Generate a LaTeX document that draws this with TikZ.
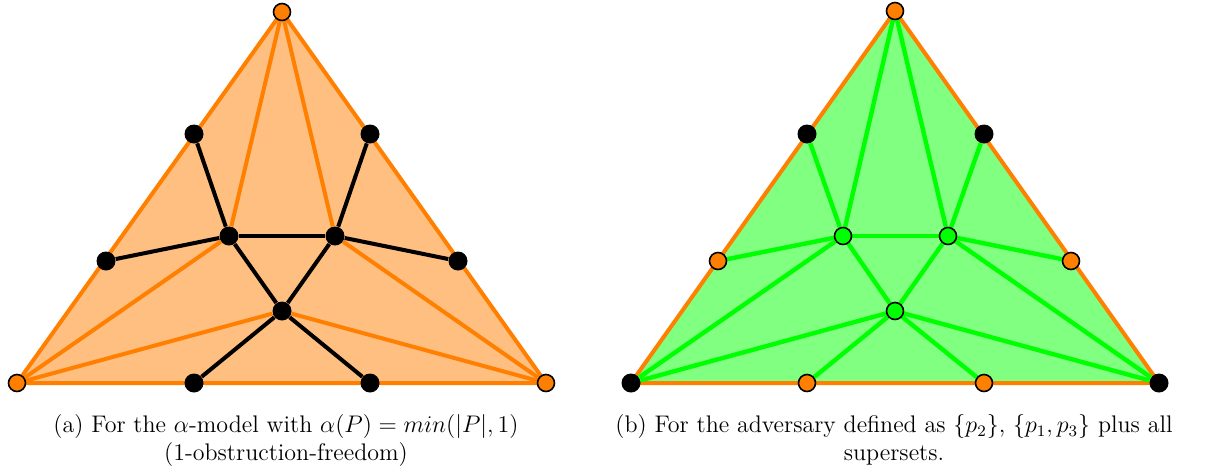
\documentclass[tikz,border=0pt]{standalone}
\usepackage{amsmath,amssymb}
\usepackage{xcolor}
\usepackage{tikz}
\usetikzlibrary{positioning, backgrounds}

\begin{document}
\begin{tikzpicture}[x=0.5pt, y=-0.5pt,
    vorange/.style={circle, draw=black, fill=orange, line width=0.8pt, inner sep=0pt, minimum size=8.5pt},
    vblack/.style={circle, fill=black, inner sep=0pt, minimum size=9.5pt},
    vgreen/.style={circle, draw=black, fill=green, line width=0.8pt, inner sep=0pt, minimum size=8.5pt},
    oline/.style={draw=orange, line width=2pt},
    bline/.style={draw=black, line width=2pt},
    gline/.style={draw=green, line width=2.2pt},
    capt/.style={align=center, font=\large, inner sep=0pt}]

    \useasboundingbox (0,0) rectangle (1211,473);

    % (a) alpha-model
    \node [vorange] (aT) at (282,12) {};
    \node [vorange] (aB) at (17,383) {};
    \node [vorange] (aC) at (546,383) {};
    \node [vblack] (aL1) at (194,134) {};
    \node [vblack] (aL2) at (106,261) {};
    \node [vblack] (aR1) at (370,134) {};
    \node [vblack] (aR2) at (458,261) {};
    \node [vblack] (aD1) at (194,383) {};
    \node [vblack] (aD2) at (370,383) {};
    \node [vblack] (aI1) at (229,236) {};
    \node [vblack] (aI2) at (335,236) {};
    \node [vblack] (aI3) at (282,311) {};

    \begin{pgfonlayer}{background}
        \fill [orange!50] (aT.center) -- (aB.center) -- (aC.center) -- cycle;
        \draw [oline] (aT.center) -- (aB.center) -- (aC.center) -- cycle;
        \draw [oline] (aT) -- (aI1);
        \draw [oline] (aT) -- (aI2);
        \draw [oline] (aB) -- (aI1);
        \draw [oline] (aB) -- (aI3);
        \draw [oline] (aC) -- (aI2);
        \draw [oline] (aC) -- (aI3);
        \draw [bline] (aI1) -- (aI2);
        \draw [bline] (aI1) -- (aI3);
        \draw [bline] (aI2) -- (aI3);
        \draw [bline] (aL1) -- (aI1);
        \draw [bline] (aL2) -- (aI1);
        \draw [bline] (aR1) -- (aI2);
        \draw [bline] (aR2) -- (aI2);
        \draw [bline] (aD1) -- (aI3);
        \draw [bline] (aD2) -- (aI3);
    \end{pgfonlayer}

    \node [capt] (capa) at (286,440) {(a) For the $\alpha$-model with $\alpha(P) = min(|P|,1)$\\(1-obstruction-freedom)};

    % (b) adversary
    \node [vorange] (bT) at (895,11) {};
    \node [vblack] (bB) at (631,383) {};
    \node [vblack] (bC) at (1159,383) {};
    \node [vblack] (bL1) at (807,134) {};
    \node [vorange] (bL2) at (718,261) {};
    \node [vblack] (bR1) at (984,134) {};
    \node [vorange] (bR2) at (1071,261) {};
    \node [vorange] (bD1) at (807,383) {};
    \node [vorange] (bD2) at (984,383) {};
    \node [vgreen] (bI1) at (843,236) {};
    \node [vgreen] (bI2) at (948,236) {};
    \node [vgreen] (bI3) at (895,311) {};

    \begin{pgfonlayer}{background}
        \fill [green!50] (bT.center) -- (bB.center) -- (bC.center) -- cycle;
        \draw [oline] (bT.center) -- (bB.center) -- (bC.center) -- cycle;
        \draw [gline] (bT) -- (bI1);
        \draw [gline] (bT) -- (bI2);
        \draw [gline] (bI1) -- (bI2);
        \draw [gline] (bI1) -- (bI3);
        \draw [gline] (bI2) -- (bI3);
        \draw [gline] (bL1) -- (bI1);
        \draw [gline] (bL2) -- (bI1);
        \draw [gline] (bR1) -- (bI2);
        \draw [gline] (bR2) -- (bI2);
        \draw [gline] (bB) -- (bI1);
        \draw [gline] (bB) -- (bI3);
        \draw [gline] (bC) -- (bI2);
        \draw [gline] (bC) -- (bI3);
        \draw [gline] (bD1) -- (bI3);
        \draw [gline] (bD2) -- (bI3);
    \end{pgfonlayer}

    \node [capt] (capb) at (894,440) {(b) For the adversary defined as $\{p_2\}$, $\{p_1,p_3\}$ plus all\\supersets.};

\end{tikzpicture}
\end{document}
